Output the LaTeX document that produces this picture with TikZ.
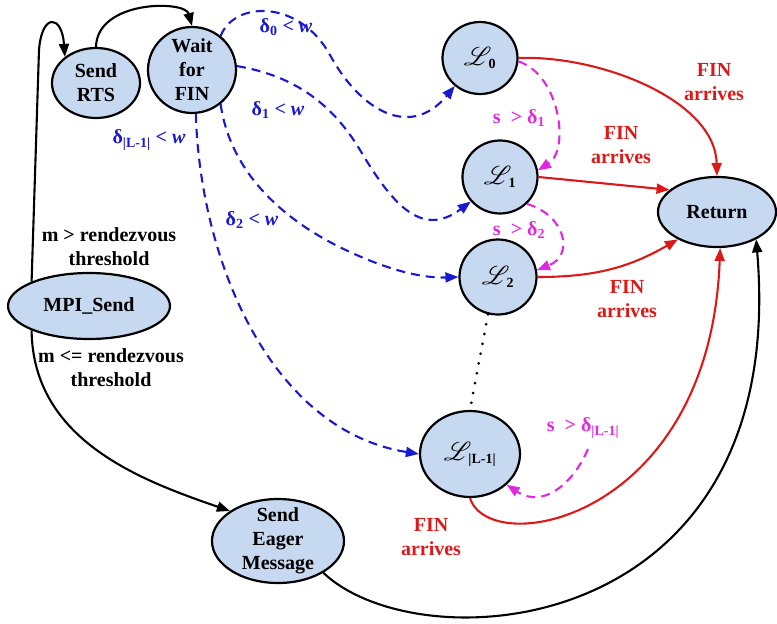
\documentclass[tikz,border=0pt]{standalone}
\usepackage{fontspec}
\setmainfont{Liberation Serif}
\usepackage{mathrsfs}
\usepackage{xcolor}
\usepackage{tikz}
\usetikzlibrary{shapes.geometric,arrows.meta}
\definecolor{fondetat}{RGB}{198,217,240}
\definecolor{bleuf}{RGB}{25,25,205}
\definecolor{rouge}{RGB}{220,25,25}
\definecolor{rose}{RGB}{225,40,225}
\newcommand{\etatL}[1]{\scalebox{1.25}{$\mathscr{L}$}\kern-3pt\textsubscript{#1}}

\begin{document}
\begin{tikzpicture}[x=1pt, y=1pt,
  etat/.style 2 args={ellipse, draw=black, fill=fondetat, line width=2.2pt,
                      minimum width=#1, minimum height=#2, inner sep=-10pt,
                      align=center, font=\fontsize{20}{24}\selectfont\bfseries},
  lab/.style={align=center, inner sep=0pt, font=\fontsize{20}{24}\selectfont\bfseries},
  fl/.style={line width=2.1pt, -{Triangle[length=13pt,width=10pt]}},
  tir/.style={fl, dash pattern=on 9pt off 6pt}]

\useasboundingbox (0,0) rectangle (777,-624);

% ── états ──
\node[etat={162pt}{66pt}] (mpi) at (89,-306) {MPI\_Send};
\node[etat={88pt}{70pt}] (rts) at (96,-83) {Send\\RTS};
\node[etat={88pt}{86pt}] (wait) at (192,-70) {Wait\\for\\FIN};
\node[etat={75pt}{72pt}] (l0) at (480,-58) {\etatL{0}};
\node[etat={75pt}{73pt}] (l1) at (500,-177) {\etatL{1}};
\node[etat={77pt}{75pt}] (l2) at (498,-277) {\etatL{2}};
\node[etat={100pt}{86pt}] (lL) at (470,-454) {\etatL{|L-1|}};
\node[etat={118pt}{70pt}] (ret) at (717,-212) {Return};
\node[etat={132pt}{84pt}] (eager) at (278,-541) {Send\\Eager\\Message};
\coordinate (sdep) at (588,-449);

% ── MPI_Send : rendezvous ou eager ──
\draw[fl] (mpi.157) -- (39,-50) .. controls (42,-12) and (62,-15) .. (rts.140);
\draw[fl] (mpi.203) .. controls (33,-440) and (140,-480) .. (eager.148);
\draw[fl] (rts.north) .. controls (97,0) and (185,0) .. (wait.north);
\draw[fl] (eager.-35) .. controls (420,-665) and (790,-640) .. (ret.-35);
\node[lab] (mgrand) at (109,-247) {m > rendezvous\\threshold};
\node[lab] (mpetit) at (111,-368) {m <= rendezvous\\threshold};

% ── attente du FIN (bleu) ──
\draw[tir, bleuf] (wait.50) .. controls (235,0) and (300,0) .. (330,-55)
  .. controls (360,-110) and (410,-140) .. (l0.228);
\draw[tir, bleuf] (wait.5) .. controls (290,-75) and (330,-100) .. (360,-150)
  .. controls (390,-200) and (420,-240) .. (l1.220);
\draw[tir, bleuf] (wait.-50) .. controls (230,-170) and (280,-220) .. (350,-252)
  .. controls (400,-275) and (430,-278) .. (l2.west);
\draw[tir, bleuf] (wait.-85) .. controls (200,-260) and (270,-430) .. (lL.west);
\node[lab, text=bleuf] (d0) at (286,-27) {δ\textsubscript{0} < \textit{w}};
\node[lab, text=bleuf] (d1) at (278,-110) {δ\textsubscript{1} < \textit{w}};
\node[lab, text=bleuf] (d2) at (252,-220) {δ\textsubscript{2} < \textit{w}};
\node[lab, text=bleuf] (dL) at (149,-140) {δ\textsubscript{|L-1|} < \textit{w}};

% ── passage au niveau suivant (rose) ──
\draw[tir, rose] (l0.-5) .. controls (560,-75) and (570,-150) .. (l1.10);
\draw[tir, rose] (l1.-45) .. controls (565,-215) and (575,-255) .. (l2.10);
\draw[tir, rose] (sdep) .. controls (575,-480) and (545,-510) .. (lL.-40);
\node[lab, text=rose] (s1) at (519,-118) {s ~> δ\textsubscript{1}};
\node[lab, text=rose] (s2) at (519,-230) {s ~> δ\textsubscript{2}};
\node[lab, text=rose] (sL) at (583,-428) {s ~> δ\textsubscript{|L-1|}};
\draw[line width=3pt, line cap=round, dash pattern=on 0pt off 10pt] (l2.-105) -- (lL.north);

% ── arrivée du FIN (rouge) ──
\draw[fl, rouge] (l0.east) .. controls (600,-55) and (715,-100) .. (ret.north);
\draw[fl, rouge] (l1.east) -- (ret.155);
\draw[fl, rouge] (l2.east) to[bend right=15] (ret.215);
\draw[fl, rouge] (lL.south) .. controls (490,-560) and (710,-520) .. (ret.-85);
\node[lab, text=rouge] (fin0) at (714,-82) {FIN\\arrives};
\node[lab, text=rouge] (fin1) at (621,-145) {FIN\\arrives};
\node[lab, text=rouge] (fin2) at (627,-299) {FIN\\arrives};
\node[lab, text=rouge] (finL) at (431,-537) {FIN\\arrives};

\end{tikzpicture}
\end{document}
